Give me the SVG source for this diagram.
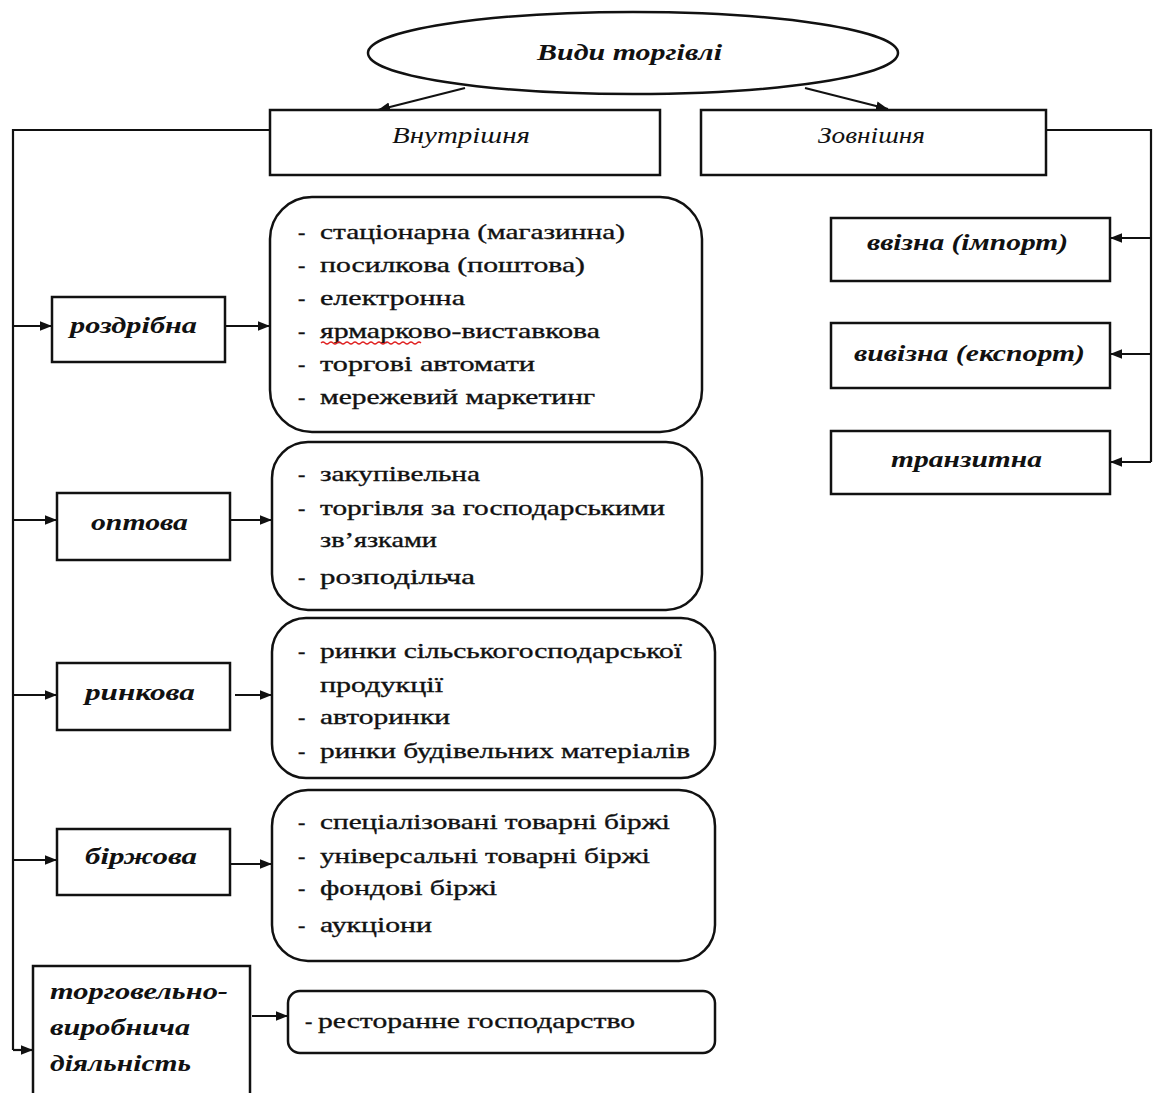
<svg xmlns="http://www.w3.org/2000/svg" width="1153" height="1093" viewBox="0 0 1153 1093">
<defs>
<marker id="ah" viewBox="0 0 10 10" refX="10" refY="5" markerWidth="12" markerHeight="12" markerUnits="userSpaceOnUse" orient="auto">
<path d="M0,1 L10,5 L0,9 z" fill="#111"/>
</marker>
<style>
.box{fill:#fff;stroke:#111;stroke-width:2.5}
.ln{fill:none;stroke:#111;stroke-width:2.2}
.ar{fill:none;stroke:#111;stroke-width:2.2;marker-end:url(#ah)}
.t{font-family:"Liberation Serif","DejaVu Serif",serif;font-size:22px;fill:#111;stroke:#111;stroke-width:0.35}
.it{font-family:"Liberation Serif","DejaVu Serif",serif;font-style:italic;font-size:24px;fill:#111}
.bi{font-family:"Liberation Serif","DejaVu Serif",serif;font-style:italic;font-weight:bold;font-size:24px;fill:#111}
</style>
</defs>
<rect width="1153" height="1093" fill="#fff"/>

<g id="connectors">
<path class="ar" d="M465,88 L378,110"/>
<path class="ar" d="M805,88 L888,109"/>
<path class="ln" d="M270,130 L13,130 L13,1050"/>
<path class="ar" d="M13,326 L52,326"/>
<path class="ar" d="M13,520 L57,520"/>
<path class="ar" d="M13,695 L57,695"/>
<path class="ar" d="M13,860 L57,860"/>
<path class="ar" d="M13,1050 L33,1050"/>
<path class="ar" d="M225,326 L270,326"/>
<path class="ar" d="M230,520 L272,520"/>
<path class="ar" d="M235,695 L272,695"/>
<path class="ar" d="M230,864 L272,864"/>
<path class="ar" d="M252,1016 L288,1016"/>
<path class="ln" d="M1046,130 L1151,130 L1151,462"/>
<path class="ar" d="M1151,238 L1110,238"/>
<path class="ar" d="M1151,354 L1110,354"/>
<path class="ar" d="M1151,462 L1110,462"/>
</g>

<g id="root">
<ellipse class="box" cx="633" cy="53" rx="265" ry="41"/>
<text class="bi" x="537" y="60" textLength="185" lengthAdjust="spacingAndGlyphs">Види торгівлі</text>
</g>

<g id="internal">
<rect class="box" x="270" y="110" width="390" height="65"/>
<text class="it" x="392" y="143" textLength="138" lengthAdjust="spacingAndGlyphs">Внутрішня</text>
</g>
<g id="external">
<rect class="box" x="701" y="110" width="345" height="65"/>
<text class="it" x="818" y="143" textLength="107" lengthAdjust="spacingAndGlyphs">Зовнішня</text>
</g>

<g id="import">
<rect class="box" x="831" y="218" width="279" height="63"/>
<text class="bi" x="867" y="250" textLength="201" lengthAdjust="spacingAndGlyphs">ввізна (імпорт)</text>
</g>
<g id="export">
<rect class="box" x="831" y="323" width="279" height="65"/>
<text class="bi" x="854" y="361" textLength="231" lengthAdjust="spacingAndGlyphs">вивізна (експорт)</text>
</g>
<g id="transit">
<rect class="box" x="831" y="431" width="279" height="63"/>
<text class="bi" x="891" y="467" textLength="151" lengthAdjust="spacingAndGlyphs">транзитна</text>
</g>

<g id="retail">
<rect class="box" x="52" y="297" width="173" height="65"/>
<text class="bi" x="70" y="333" textLength="127" lengthAdjust="spacingAndGlyphs">роздрібна</text>
</g>
<g id="retail-list">
<rect class="box" x="270" y="197" width="432" height="235" rx="42"/>
<text class="t" x="298" y="239">-</text><text class="t" x="320" y="239" textLength="305" lengthAdjust="spacingAndGlyphs">стаціонарна (магазинна)</text>
<text class="t" x="298" y="272">-</text><text class="t" x="320" y="272" textLength="265" lengthAdjust="spacingAndGlyphs">посилкова (поштова)</text>
<text class="t" x="298" y="305">-</text><text class="t" x="320" y="305" textLength="145" lengthAdjust="spacingAndGlyphs">електронна</text>
<text class="t" x="298" y="338">-</text><text class="t" x="320" y="338" textLength="280" lengthAdjust="spacingAndGlyphs">ярмарково-виставкова</text>
<path d="M321,343 q2,-2 4,0 t4,0 t4,0 t4,0 t4,0 t4,0 t4,0 t4,0 t4,0 t4,0 t4,0 t4,0 t4,0 t4,0 t4,0 t4,0 t4,0 t4,0 t4,0 t4,0 t4,0 t4,0 t4,0 t4,0 t4,0" fill="none" stroke="#e02020" stroke-width="1.2"/>
<text class="t" x="298" y="371">-</text><text class="t" x="320" y="371" textLength="215" lengthAdjust="spacingAndGlyphs">торгові автомати</text>
<text class="t" x="298" y="404">-</text><text class="t" x="320" y="404" textLength="275" lengthAdjust="spacingAndGlyphs">мережевий маркетинг</text>
</g>

<g id="wholesale">
<rect class="box" x="57" y="493" width="173" height="67"/>
<text class="bi" x="91" y="530" textLength="97" lengthAdjust="spacingAndGlyphs">оптова</text>
</g>
<g id="wholesale-list">
<rect class="box" x="272" y="442" width="430" height="168" rx="36"/>
<text class="t" x="298" y="481">-</text><text class="t" x="320" y="481" textLength="160" lengthAdjust="spacingAndGlyphs">закупівельна</text>
<text class="t" x="298" y="515">-</text><text class="t" x="320" y="515" textLength="345" lengthAdjust="spacingAndGlyphs">торгівля за господарськими</text>
<text class="t" x="320" y="547" textLength="117" lengthAdjust="spacingAndGlyphs">зв’язками</text>
<text class="t" x="298" y="584">-</text><text class="t" x="320" y="584" textLength="155" lengthAdjust="spacingAndGlyphs">розподільча</text>
</g>

<g id="market">
<rect class="box" x="57" y="663" width="173" height="67"/>
<text class="bi" x="85" y="700" textLength="110" lengthAdjust="spacingAndGlyphs">ринкова</text>
</g>
<g id="market-list">
<rect class="box" x="272" y="618" width="443" height="160" rx="34"/>
<text class="t" x="298" y="658">-</text><text class="t" x="320" y="658" textLength="362" lengthAdjust="spacingAndGlyphs">ринки сільськогосподарської</text>
<text class="t" x="320" y="692" textLength="123" lengthAdjust="spacingAndGlyphs">продукції</text>
<text class="t" x="298" y="724">-</text><text class="t" x="320" y="724" textLength="130" lengthAdjust="spacingAndGlyphs">авторинки</text>
<text class="t" x="298" y="758">-</text><text class="t" x="320" y="758" textLength="370" lengthAdjust="spacingAndGlyphs">ринки будівельних матеріалів</text>
</g>

<g id="exchange">
<rect class="box" x="57" y="829" width="173" height="66"/>
<text class="bi" x="85" y="864" textLength="112" lengthAdjust="spacingAndGlyphs">біржова</text>
</g>
<g id="exchange-list">
<rect class="box" x="272" y="790" width="443" height="171" rx="36"/>
<text class="t" x="298" y="829">-</text><text class="t" x="320" y="829" textLength="350" lengthAdjust="spacingAndGlyphs">спеціалізовані товарні біржі</text>
<text class="t" x="298" y="863">-</text><text class="t" x="320" y="863" textLength="330" lengthAdjust="spacingAndGlyphs">універсальні товарні біржі</text>
<text class="t" x="298" y="895">-</text><text class="t" x="320" y="895" textLength="177" lengthAdjust="spacingAndGlyphs">фондові біржі</text>
<text class="t" x="298" y="932">-</text><text class="t" x="320" y="932" textLength="112" lengthAdjust="spacingAndGlyphs">аукціони</text>
</g>

<g id="trade-production">
<rect class="box" x="33" y="966" width="217" height="140"/>
<text class="bi" x="50" y="999" textLength="178" lengthAdjust="spacingAndGlyphs">торговельно-</text>
<text class="bi" x="50" y="1035" textLength="140" lengthAdjust="spacingAndGlyphs">виробнича</text>
<text class="bi" x="50" y="1071" textLength="141" lengthAdjust="spacingAndGlyphs">діяльність</text>
</g>
<g id="trade-production-list">
<rect class="box" x="288" y="991" width="427" height="62" rx="12"/>
<text class="t" x="305" y="1028">-</text><text class="t" x="318" y="1028" textLength="317" lengthAdjust="spacingAndGlyphs">ресторанне господарство</text>
</g>
</svg>
